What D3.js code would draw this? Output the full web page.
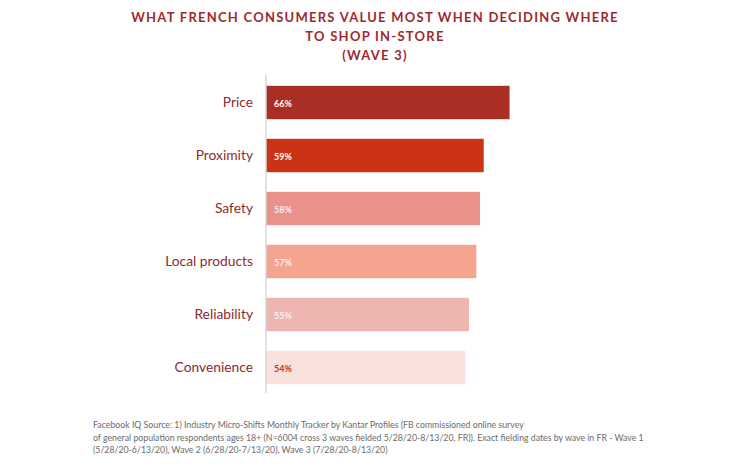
<!DOCTYPE html>
<html><head><meta charset="utf-8">
<script src="https://cdn.jsdelivr.net/npm/d3@7"></script>
<style>body{margin:0;background:#fff;} svg{display:block;}</style>
</head><body>
<svg id="chart" width="750" height="470"></svg>
<script>
const categories = ["Price","Proximity","Safety","Local products","Reliability","Convenience"];
const values = [66,59,58,57,55,54];
const barColors = ["#A92E24","#CC3314","#E8928A","#F4A48F","#EDB6B1","#FAE1DD"];
const labelColors = ["#ffffff","#ffffff","#fbeeee","#fdf1ec","#fbf0ef","#CC3314"];
const titleLines = ["WHAT FRENCH CONSUMERS VALUE MOST WHEN DECIDING WHERE","TO SHOP IN-STORE","(WAVE 3)"];
const footLines = [
 "Facebook IQ Source: 1) Industry Micro-Shifts Monthly Tracker by Kantar Profiles (FB commissioned online survey",
 "of general population respondents ages 18+ (N=6004 cross 3 waves fielded 5/28/20-8/13/20, FR)). Exact fielding dates by wave in FR - Wave 1",
 "(5/28/20-6/13/20), Wave 2 (6/28/20-7/13/20), Wave 3 (7/28/20-8/13/20)"
];

const svg = d3.select("#chart");
const font = "Lato, 'Open Sans', sans-serif";

const x = d3.scaleLinear().domain([0,100]).range([266, 266+369]);
const y = d3.scaleBand().domain(categories).range([76,394]).paddingInner(0.37).paddingOuter(0.185);

svg.append("g").selectAll("text").data(titleLines).join("text")
  .attr("x",375).attr("y",(d,i)=>22+i*19)
  .attr("text-anchor","middle")
  .attr("font-family",font).attr("font-weight","bold").attr("font-size",13)
  .attr("letter-spacing",1.25)
  .attr("fill","#9E2A2F").text(d=>d);

svg.append("g").selectAll("rect").data(categories).join("rect")
  .attr("x",x(0)).attr("y",d=>y(d))
  .attr("width",(d,i)=>x(values[i])-x(0))
  .attr("height",y.bandwidth())
  .attr("fill",(d,i)=>barColors[i]);

svg.append("line").attr("x1",x(0)).attr("x2",x(0)).attr("y1",74).attr("y2",393)
  .attr("stroke","#d9d9d9").attr("stroke-width",1.5);

svg.append("g").selectAll("text").data(categories).join("text")
  .attr("x",x(0)-13).attr("y",d=>y(d)+y.bandwidth()/2)
  .attr("dy","0.35em").attr("text-anchor","end")
  .attr("font-family",font).attr("font-size",13.8)
  .attr("fill","#8E2A2E").text(d=>d);

svg.append("g").selectAll("text").data(categories).join("text")
  .attr("x",x(0)+8).attr("y",d=>y(d)+y.bandwidth()/2+1)
  .attr("dy","0.35em")
  .attr("font-family",font).attr("font-weight","bold").attr("font-size",9)
  .attr("fill",(d,i)=>labelColors[i]).text((d,i)=>values[i]+"%");

svg.append("g").selectAll("text").data(footLines).join("text")
  .attr("x",93).attr("y",(d,i)=>428+i*12.5)
  .attr("font-family",font).attr("font-size",8.75)
  .attr("fill","#6b6b6b").text(d=>d);
</script>
</body></html>
